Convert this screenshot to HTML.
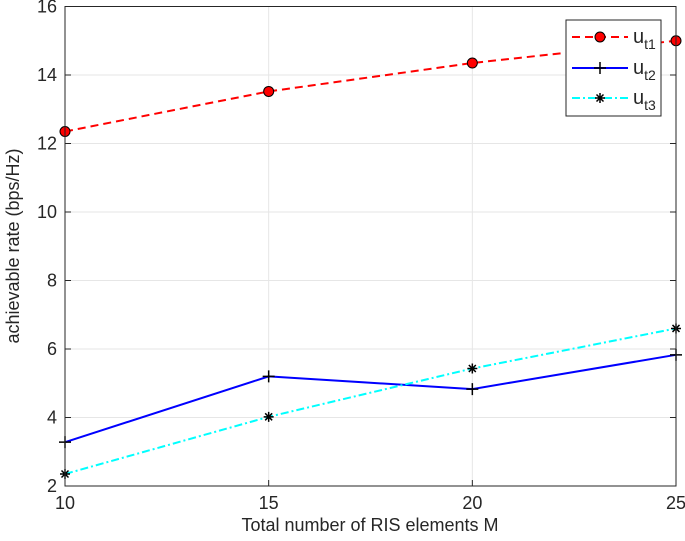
<!DOCTYPE html>
<html><head><meta charset="utf-8"><style>
body{margin:0;background:#fff;}
svg{display:block;font-family:"Liberation Sans",Arial,sans-serif;}
</style></head><body>
<svg id="chart" width="685" height="541" viewBox="0 0 685 541" xmlns="http://www.w3.org/2000/svg">
<g id="grid"></g>
<g id="series"></g>
<rect x="65" y="6.5" width="611" height="479.5" fill="none" stroke="#262626" stroke-width="1"/>
<g id="ticks"></g>
<text x="370" y="531" text-anchor="middle" font-size="18" fill="#262626">Total number of RIS elements M</text>
<text transform="translate(19,246) rotate(-90)" text-anchor="middle" font-size="18" fill="#262626">achievable rate (bps/Hz)</text>
<g>
<rect x="566" y="20" width="95" height="96" fill="#fff" stroke="#262626" stroke-width="1"/>
<g>
<line x1="572" y1="37" x2="628" y2="37" stroke="#f00" stroke-width="2" stroke-dasharray="8,5"/>
<circle cx="600" cy="37" r="5" fill="#f00" stroke="#000" stroke-width="1"/>
<text x="633" y="43" font-size="20" fill="#262626">u<tspan font-size="14" dy="6">t1</tspan></text>
</g>
<g>
<line x1="572" y1="68" x2="628" y2="68" stroke="#00f" stroke-width="2"/>
<path d="M594 68h12M600 62v12" stroke="#000" stroke-width="1.5"/>
<text x="633" y="74" font-size="20" fill="#262626">u<tspan font-size="14" dy="6">t2</tspan></text>
</g>
<g>
<line x1="572" y1="98" x2="628" y2="98" stroke="#0ff" stroke-width="2" stroke-dasharray="8,3,2,3"/>
<path d="M595 98h10M600 93v10M596.5 94.5l7 7M603.5 94.5l-7 7" stroke="#000" stroke-width="1.5"/>
<text x="633" y="104" font-size="20" fill="#262626">u<tspan font-size="14" dy="6">t3</tspan></text>
</g>
</g>
</svg>
<script>
const xCats=[10,15,20,25];
const ut1=[12.35,13.52,14.35,15.0];
const ut2=[3.28,5.2,4.83,5.83];
const ut3=[2.35,4.02,5.43,6.6];
const xTicks=[10,15,20,25];
const yTicks=[2,4,6,8,10,12,14,16];
const NS="http://www.w3.org/2000/svg";
const X=v=>65+(v-10)/15*611;
const Y=v=>486-(v-2)/14*479.5;
function mk(t,a,p){const e=document.createElementNS(NS,t);for(const k in a)e.setAttribute(k,a[k]);p.appendChild(e);return e;}
const grid=document.getElementById('grid'),ticks=document.getElementById('ticks'),ser=document.getElementById('series');
xTicks.forEach(v=>{
 const g=mk('line',{x1:X(v),x2:X(v),y1:6.5,y2:486,stroke:'#e6e6e6'},grid);
 
 
 mk('line',{x1:X(v),x2:X(v),y1:486,y2:480,stroke:'#262626'},ticks);
 const t=mk('text',{x:X(v),y:509,'text-anchor':'middle','font-size':18,fill:'#262626'},ticks);
 t.textContent=v;
 
 
});
yTicks.forEach(v=>{
 const g=mk('line',{x1:65,x2:676,y1:Y(v),y2:Y(v),stroke:'#e6e6e6'},grid);
 
 
 mk('line',{x1:65,x2:71,y1:Y(v),y2:Y(v),stroke:'#262626'},ticks);
 mk('line',{x1:676,x2:670,y1:Y(v),y2:Y(v),stroke:'#262626'},ticks);
 const t=mk('text',{x:57,y:Y(v)+6,'text-anchor':'end','font-size':18,fill:'#262626'},ticks);
 t.textContent=v;
 
 
});
function line(vals,color,dash,name){
 const p=mk('polyline',{points:vals.map((v,i)=>X(xCats[i])+','+Y(v)).join(' '),fill:'none',stroke:color,'stroke-width':2,'stroke-dasharray':dash},ser);
 
 
}
line(ut1,'#f00','8,5','line-ut1');
line(ut2,'#00f','none','line-ut2');
line(ut3,'#0ff','8,3,2,3','line-ut3');
ut1.forEach((v,i)=>{const c=mk('circle',{cx:X(xCats[i]),cy:Y(v),r:5,fill:'#f00',stroke:'#000','stroke-width':1},ser);
 
 });
ut2.forEach((v,i)=>{const x=X(xCats[i]),y=Y(v);const c=mk('path',{d:`M${x-6} ${y}h12M${x} ${y-6}v12`,stroke:'#000','stroke-width':1.5},ser);
 
 });
ut3.forEach((v,i)=>{const x=X(xCats[i]),y=Y(v);const c=mk('path',{d:`M${x-5} ${y}h10M${x} ${y-5}v10M${x-3.5} ${y-3.5}l7 7M${x+3.5} ${y-3.5}l-7 7`,stroke:'#000','stroke-width':1.5},ser);
 
 });
</script>
</body></html>
